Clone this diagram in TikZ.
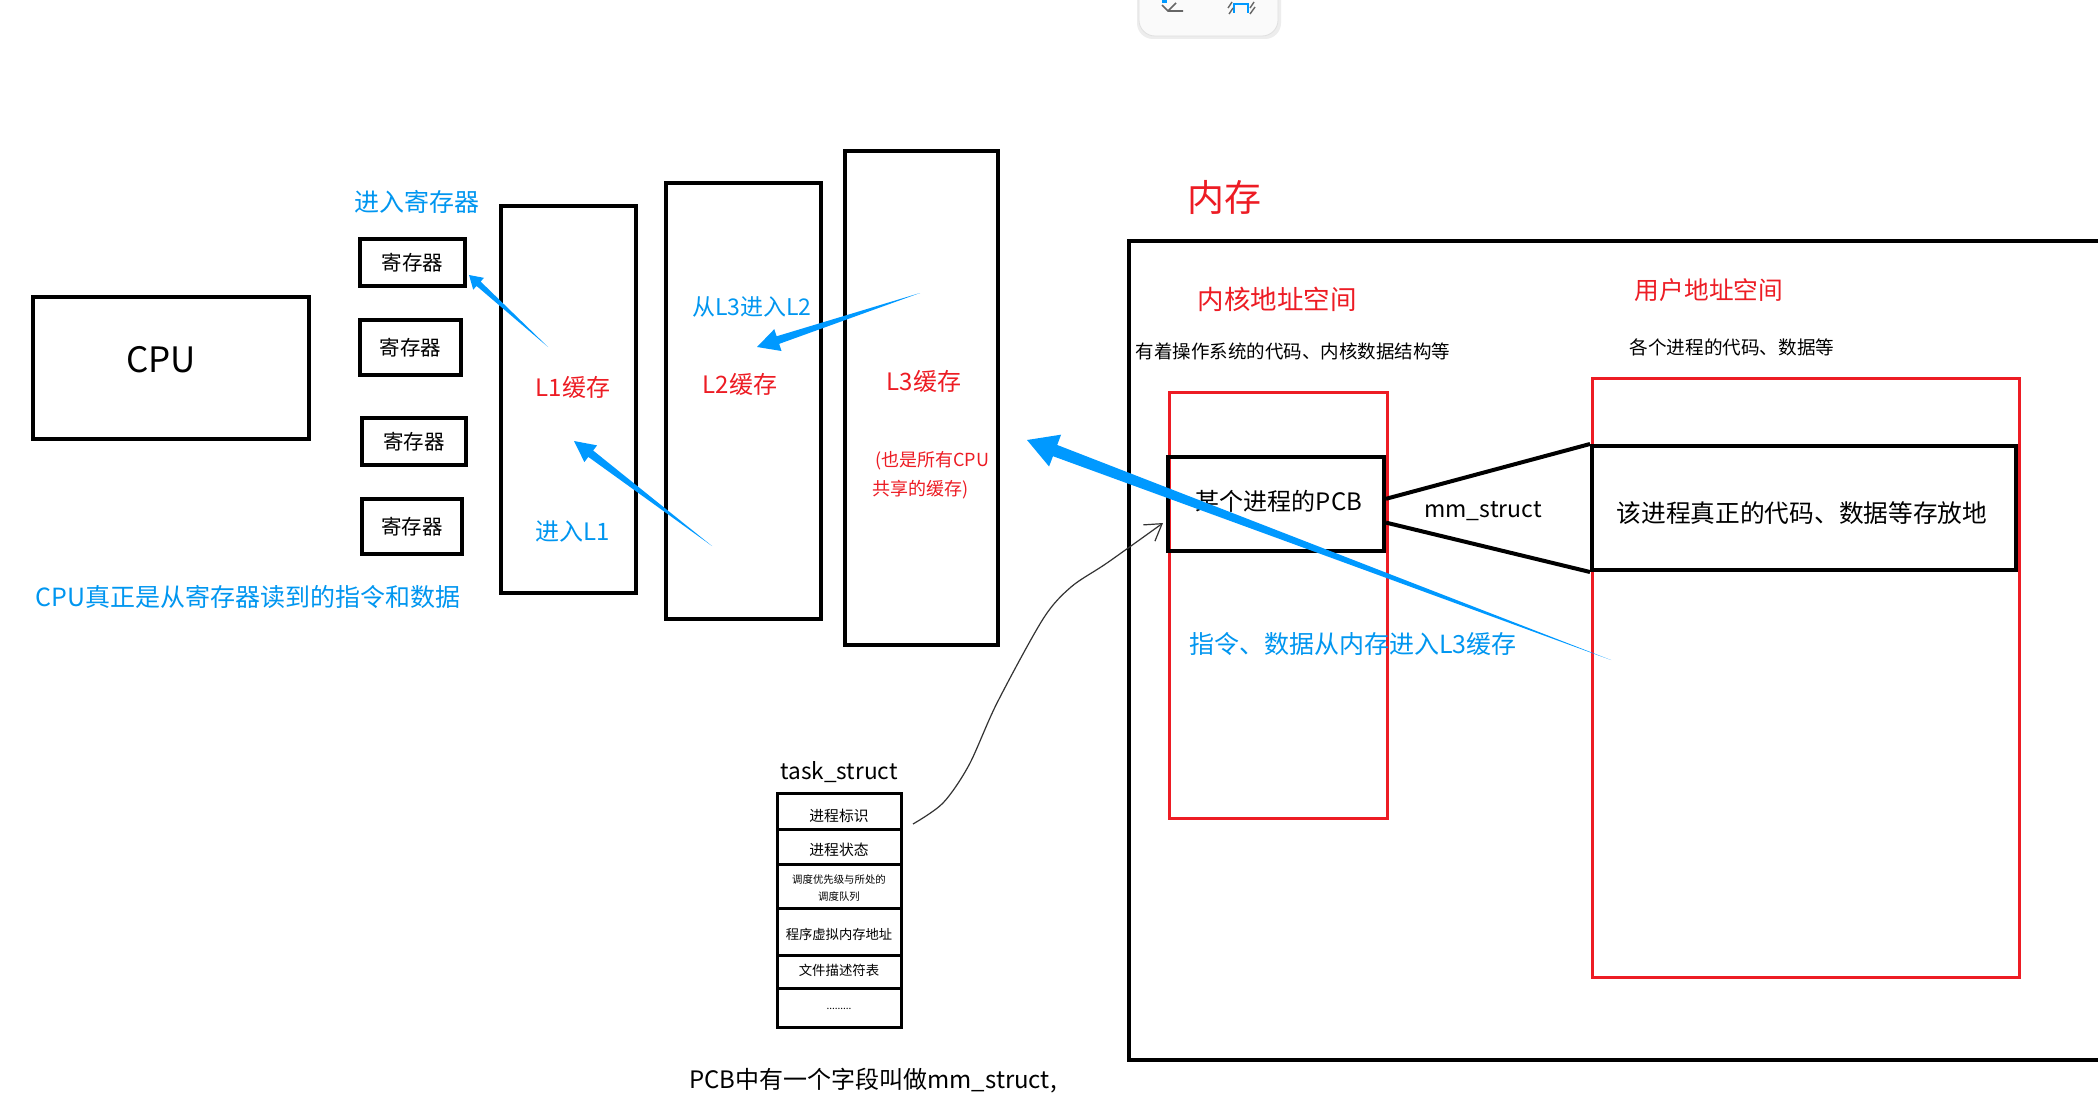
\documentclass[tikz,border=0pt]{standalone}
\usepackage{fontspec}
\setmainfont{Noto Sans CJK SC}
\usetikzlibrary{calc,arrows.meta}
\definecolor{myred}{RGB}{237,28,36}
\definecolor{myblue}{RGB}{0,153,255}
\definecolor{txtblue}{RGB}{0,150,240}
\newcommand{\pxf}[1]{\fontsize{#1}{#1}\selectfont}
\newcommand{\taper}[5]{%
  \coordinate (tpB) at ($(#2)!#3!(#1)$);
  \fill[myblue] (#1) -- ($(tpB)!#5!90:(#2)$) -- ($(tpB)!#4!90:(#2)$) -- (#2) -- ($(tpB)!#4!-90:(#2)$) -- ($(tpB)!#5!-90:(#2)$) -- cycle;}
\begin{document}
\begin{tikzpicture}[x=0.5pt,y=-0.5pt,
  bbox/.style={draw=black, line width=2pt, inner sep=0pt},
  rbox/.style={draw=myred, line width=1.5pt, inner sep=0pt},
  cell/.style={draw=black, line width=1.5pt, inner sep=0pt, minimum width=62pt},
  lbl/.style={inner sep=0pt}]
\useasboundingbox (0,0) rectangle (2098,1102);
\clip (0,0) rectangle (2098,1102);
\fill[white] (0,0) rectangle (2098,1102);

% toolbar fragment
\fill[black!7, rounded corners=8pt] (1137,-20) rectangle (1281,39);
\filldraw[fill=black!2, draw=black!12, rounded corners=8pt] (1139,-20) rectangle (1278,36);
\draw[black!60, line width=0.8pt] (1162,5) -- (1168,11) -- (1183,11) (1168,11) -- (1176,3);
\fill[myblue] (1162,0) rectangle (1167,3);
\draw[myblue, line width=1pt] (1234,13) -- (1234,4) -- (1248,4) -- (1248,13);
\draw[black!60, line width=0.7pt] (1228,8)--(1232,2) (1229,14)--(1233,8) (1250,8)--(1254,2) (1250,14)--(1255,7);

% CPU side
\node[bbox, minimum width=138pt, minimum height=71pt] (cpu) at (171,368) {};
\node[lbl, font=\pxf{17.5}] (cputxt) at (161,360) {CPU};
\node[lbl, text=txtblue, font=\pxf{12.5}] (inreg) at (417,202) {进入寄存器};
\node[bbox, minimum width=52.5pt, minimum height=23.5pt, font=\pxf{10.25}] (r1) at (412.5,262.5) {寄存器};
\node[bbox, minimum width=50.5pt, minimum height=27.5pt, font=\pxf{10.25}] (r2) at (410.5,347.5) {寄存器};
\node[bbox, minimum width=52pt, minimum height=23.5pt, font=\pxf{10.25}] (r3) at (414,441.5) {寄存器};
\node[bbox, minimum width=50pt, minimum height=27.5pt, font=\pxf{10.25}] (r4) at (412,526.5) {寄存器};
\node[lbl, text=txtblue, font=\pxf{12.5}] (cpunote) at (248,597) {CPU真正是从寄存器读到的指令和数据};

\node[bbox, minimum width=67.5pt, minimum height=193.5pt] (l1) at (568.5,399.5) {};
\node[lbl, text=myred, font=\pxf{12}] (l1t) at (573,387) {L1缓存};
\node[lbl, text=txtblue, font=\pxf{12}] (inl1) at (573,532) {进入L1};
\node[bbox, minimum width=77.5pt, minimum height=218pt] (l2) at (743.5,401) {};
\node[lbl, text=myred, font=\pxf{12}] (l2t) at (740,384) {L2缓存};
\node[lbl, text=txtblue, font=\pxf{11.5}] (inl2) at (752,307) {从L3进入L2};
\node[bbox, minimum width=76.5pt, minimum height=247pt] (l3) at (921.5,398) {};
\node[lbl, text=myred, font=\pxf{12}] (l3t) at (924,381) {L3缓存};
\node[lbl, text=myred, font=\pxf{9}] (l3n1) at (932,461) {(也是所有CPU};
\node[lbl, text=myred, font=\pxf{9}] (l3n2) at (921,490) {共享的缓存)};

% memory side
\node[lbl, text=myred, font=\pxf{18.5}] (memt) at (1224,197) {内存};
\node[bbox, anchor=north west, minimum width=491.5pt, minimum height=409.5pt] (mem) at (1127,239) {};
\node[lbl, text=myred, font=\pxf{13.25}] (kt) at (1277,299) {内核地址空间};
\node[lbl, font=\pxf{9.25}] (kd) at (1293,351) {有着操作系统的代码、内核数据结构等};
\node[lbl, text=myred, font=\pxf{12.35}] (ut) at (1709,290) {用户地址空间};
\node[lbl, font=\pxf{9.3}] (ud) at (1732,347) {各个进程的代码、数据等};
\node[rbox, anchor=north west, minimum width=109pt, minimum height=213pt] (kbox) at (1168,391) {};
\node[rbox, anchor=north west, minimum width=213.5pt, minimum height=299.5pt] (ubox) at (1591,377) {};
\node[bbox, minimum width=108pt, minimum height=47pt] (pcb) at (1276,504) {};
\node[lbl, font=\pxf{12}] (pcbt) at (1279,501) {某个进程的PCB};
\node[bbox, minimum width=212pt, minimum height=62pt] (ucode) at (1804,508) {};
\node[lbl, font=\pxf{12.35}] (ucodet) at (1802,513) {该进程真正的代码、数据等存放地};
\draw[line width=2pt] ($(pcb.north east)!0.447!(pcb.south east)$) -- (ucode.north west);
\draw[line width=2pt] ($(pcb.north east)!0.69!(pcb.south east)$) -- (ucode.south west);
\node[lbl, font=\pxf{11.5}] (mmt) at (1483,511) {mm\_struct};
\node[lbl, text=txtblue, font=\pxf{12.5}] (l3in) at (1353,644) {指令、数据从内存进入L3缓存};

% task_struct table
\node[lbl, font=\pxf{11.3}] (tst) at (839,772) {task\_struct};
\node[cell, minimum height=18pt] (c1) at (839,811) {};
\node[cell, minimum height=17.5pt] (c2) at (839,846.5) {};
\node[cell, minimum height=22pt] (c3) at (839,886) {};
\node[cell, minimum height=23.5pt] (c4) at (839,931.5) {};
\node[cell, minimum height=16.5pt] (c5) at (839,971.5) {};
\node[cell, minimum height=19.5pt] (c6) at (839,1007.5) {};
\node[lbl, font=\pxf{7.4}] (c1t) at (839,816) {进程标识};
\node[lbl, font=\pxf{7.4}] (c2t) at (839,850) {进程状态};
\node[lbl, font=\pxf{5.2}] (c3ta) at (839,880) {调度优先级与所处的};
\node[lbl, font=\pxf{5.2}] (c3tb) at (839,897) {调度队列};
\node[lbl, font=\pxf{6.65}] (c4t) at (839,934) {程序虚拟内存地址};
\node[lbl, font=\pxf{6.7}] (c5t) at (839,970) {文件描述符表};
\node[lbl, font=\pxf{5}] (c6t) at (839,1009) {.........};
\node[lbl, font=\pxf{12}] (pcbnote) at (873,1081) {PCB中有一个字段叫做mm\_struct,};

% thin hand-drawn connector
\coordinate (cs) at (913,824);
\coordinate (ce) at (1163,523);
\draw[black!80, line width=0.6pt, -{Straight Barb[length=8pt,width=10pt]}] plot[smooth] coordinates {(cs) (943,803) (969,765) (997,703) (1043,619) (1071,587) (1107,563) (ce)};

% blue tapered arrows
\coordinate (aT) at (548,347); \coordinate (aP) at (469,275);
\taper{aT}{aP}{6.5pt}{4pt}{1.5pt}
\coordinate (bT) at (712,546); \coordinate (bP) at (574,441);
\taper{bT}{bP}{10.5pt}{5.25pt}{2pt}
\coordinate (cT) at (920,293); \coordinate (cP) at (757,347);
\taper{cT}{cP}{11pt}{5.75pt}{2pt}
\coordinate (dT) at (1611,660); \coordinate (dP) at (1027,440);
\taper{dT}{dP}{15pt}{8.5pt}{3pt}
\end{tikzpicture}
\end{document}
